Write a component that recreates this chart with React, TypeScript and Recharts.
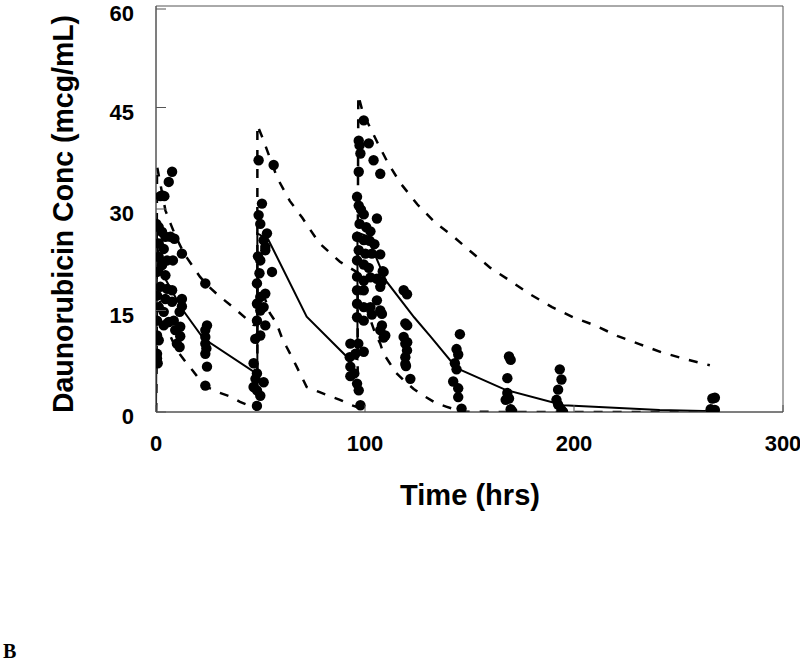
import React from "react";
import {
  ComposedChart,
  Line,
  Scatter,
  XAxis,
  YAxis,
  ZAxis,
  ReferenceArea,
} from "recharts";

// observed concentrations, [time (hrs), conc (mcg/mL)]
const obsDose1: [number, number][] = [
  [7.7, 35.5], [6.1, 34.0], [2.1, 31.9], [4.0, 31.9], [3.0, 32.0], [0.2, 27.8], [1.3, 27.3],
  [2.9, 26.6], [4.5, 25.9], [6.9, 25.9], [8.8, 25.6], [1.3, 24.9], [3.7, 24.1], [12.4, 23.4],
  [1.3, 22.9], [5.3, 22.4], [8.1, 22.4], [2.9, 21.7], [0.5, 20.7], [4.5, 20.2], [2.1, 18.5],
  [5.3, 18.2], [7.7, 18.0], [0.5, 17.2], [4.5, 16.7], [12.4, 16.7], [7.7, 16.3], [12.4, 15.6],
  [1.3, 15.5], [11.3, 14.8], [3.7, 14.8], [0.5, 13.5], [6.1, 13.3], [8.5, 13.5], [3.7, 12.8],
  [11.6, 12.6], [9.2, 12.1], [0.5, 11.3], [11.6, 11.2], [1.3, 10.6], [10.0, 10.1], [11.3, 9.6],
  [0.5, 8.6], [0.5, 7.9], [0.8, 7.2],
  [23.6, 19.0], [24.4, 12.8], [23.6, 12.1], [23.6, 11.1], [23.6, 10.1], [24.1, 9.4], [23.6, 8.6],
  [24.4, 6.7], [23.6, 3.9],
];

const obsDose2: [number, number][] = [
  [46.7, 7.2], [48.3, 5.7], [47.6, 4.9], [51.5, 4.4], [46.7, 3.7], [48.3, 3.2], [49.9, 2.4],
  [48.3, 0.9],
  [49.1, 37.2], [56.3, 36.5], [50.7, 30.8], [49.1, 29.1], [49.9, 27.8], [53.1, 26.4], [51.5, 25.4],
  [52.3, 24.4], [52.3, 23.9], [49.9, 22.4], [55.5, 20.7], [48.3, 19.0], [49.9, 17.0], [52.3, 17.5],
  [48.3, 16.0], [49.9, 15.0], [51.5, 15.5], [48.3, 13.5], [52.3, 12.8], [47.5, 10.8], [49.9, 11.3],
  [49.5, 20.5], [48.8, 23.0],
];

const obsDose3: [number, number][] = [
  [93.0, 10.1], [95.4, 8.6], [92.7, 8.1], [99.4, 8.9], [93.0, 6.7], [94.9, 5.7], [93.0, 5.3],
  [96.2, 4.2], [97.0, 3.2], [97.8, 1.0],
  [99.4, 43.1], [97.0, 40.1], [97.4, 39.4], [101.8, 39.7], [97.8, 38.2], [104.1, 37.2], [107.3, 35.2],
  [97.0, 35.5], [96.2, 31.8], [97.0, 30.5], [98.1, 29.9], [99.4, 29.2], [105.7, 28.6], [97.4, 27.8],
  [100.6, 27.3], [102.6, 26.7], [96.2, 25.9], [99.4, 25.4], [102.2, 25.3], [104.5, 24.8], [97.0, 23.9],
  [100.2, 23.4], [103.3, 23.4], [107.3, 23.3], [96.2, 22.4], [99.4, 21.8], [101.8, 21.3], [108.9, 20.7],
  [96.2, 20.0], [99.4, 19.4], [102.6, 19.9], [105.7, 19.7], [107.3, 18.5], [96.2, 18.0], [99.4, 18.0],
  [96.2, 16.0], [99.4, 15.5], [102.6, 15.5], [107.3, 15.0], [105.7, 16.5], [96.2, 14.0], [99.4, 13.5],
  [103.3, 14.4], [108.1, 12.8], [107.3, 12.1], [109.7, 11.3], [108.1, 19.3], [108.5, 20.8],
  [108.1, 14.5], [108.9, 11.0], [96.8, 10.1],
  [118.5, 18.0], [120.1, 17.4], [119.3, 13.1], [118.5, 11.1], [119.3, 10.1], [120.1, 9.1], [119.3, 8.1],
  [119.3, 7.1], [119.6, 6.8], [121.7, 4.9], [120.2, 10.3], [120.2, 12.8],
];

const obsLate: [number, number][] = [
  [145.4, 11.5], [143.8, 9.3], [144.6, 8.5], [143.0, 7.2], [143.8, 6.3], [142.2, 4.5], [144.6, 3.5],
  [144.6, 2.2], [146.2, 0.5],
  [168.9, 8.2], [169.7, 7.7], [168.1, 5.0], [168.1, 2.8], [168.9, 2.0], [167.3, 1.8], [170.5, 0.1],
  [169.7, 0.4],
  [193.2, 6.3], [194.0, 4.8], [192.4, 3.3], [191.6, 1.8], [192.4, 1.1], [194.0, 0.3], [194.8, 0.0],
  [266.2, 2.0], [267.4, 2.1], [265.4, 0.4], [266.6, 0.1], [267.4, 0.3],
];

// model predictions: median, 95th and 5th percentiles
const medianCurve: [number, number][] = [
  [0, 0], [0.5, 24.5], [3.5, 20.2], [12.3, 15.3], [22.6, 10.9], [46.5, 6.0], [48.5, 5.8],
  [48.5, 26.4], [53.7, 25.5], [72.1, 14.1], [91.2, 8.2], [96.4, 7.8], [96.4, 26.5], [101, 26],
  [110, 19.4], [123.5, 14], [131.5, 11.1], [143, 6.8], [146, 6.2], [167, 3.3], [195, 1.0],
  [241, 0.3], [267, 0.1],
];

const p95Curve: [number, number][] = [
  [0, 0], [0.5, 36.3], [4.5, 29.8], [7, 27.8], [9.5, 25.9], [12.5, 24], [15, 22.7], [21, 20],
  [25, 18.6], [30, 17.2], [38, 15.2], [46.5, 12.9], [48.5, 12.8], [48.5, 42.4], [51, 40.5],
  [58, 34.6], [64, 31.2], [70, 28.7], [78, 25], [88, 22.2], [96.5, 20.6], [96.8, 46.8], [99, 44.2],
  [106, 39.8], [111, 36.8], [117, 33.8], [125, 30.7], [133.5, 28], [142, 26], [151, 23.6],
  [160, 21.3], [169.4, 19.4], [179, 17.4], [189.5, 15.5], [199.5, 14], [210, 12.8], [221, 11.2],
  [231.6, 10], [242, 8.8], [253.6, 7.8], [265, 6.9],
];

const p5Curve: [number, number][] = [
  [0, 0], [0.5, 18], [5, 12.5], [10, 9.1], [14.7, 7.2], [17.9, 6.0], [21, 4.7], [25.8, 3.5],
  [29, 3.0], [35.4, 2.3], [40.2, 1.5], [45.8, 0.8], [48.5, 0.6], [48.5, 20], [54.5, 14.6],
  [57.7, 13.1], [60.1, 11.1], [62.5, 9.6], [64.9, 8.2], [67.3, 6.7], [69.7, 5.2], [72.1, 3.7],
  [77.7, 3.0], [81.7, 2.5], [88, 1.8], [93.6, 1.0], [96.5, 0.7], [96.5, 19], [104.9, 11.6],
  [107.3, 10.1], [108.9, 8.6], [112.1, 7.1], [114.5, 5.9], [118.5, 4.7], [123.3, 3.4], [126.5, 2.7],
  [134, 1.3], [138.8, 0.8], [146, 0.05], [170, 0], [265, 0],
];

const xTicks = [0, 100, 200, 300];
const yTicks = [0, 15, 30, 45, 60];

const toPoints = (rows: [number, number][]) => rows.map(([t, c]) => ({ t, c }));

const observed = toPoints([...obsDose1, ...obsDose2, ...obsDose3, ...obsLate]);

const FONT = "'Liberation Sans', Arial, Helvetica, sans-serif";
const AXIS = "#555";
const PLOT_LEFT = 156;
const PLOT_BOTTOM = 412;

function YTick(props: any) {
  const { y, payload } = props;
  return (
    <g>
      <line x1={PLOT_LEFT} x2={PLOT_LEFT + 10} y1={y} y2={y} stroke={AXIS} strokeWidth={1} />
      <text x={134} y={y + 12} textAnchor="end" fontFamily={FONT} fontWeight="bold" fontSize={22} fill="#000">
        {payload.value}
      </text>
    </g>
  );
}

function XTick(props: any) {
  const { x, payload } = props;
  return (
    <g>
      <line x1={x} x2={x} y1={PLOT_BOTTOM} y2={PLOT_BOTTOM - 7} stroke={AXIS} strokeWidth={1} />
      <text x={x} y={451} textAnchor="middle" fontFamily={FONT} fontWeight="bold" fontSize={22} fill="#000">
        {payload.value}
      </text>
    </g>
  );
}

export default function App() {
  return (
    <div style={{ position: "absolute", left: 0, top: 0, width: 800, height: 663, background: "#fff" }}>
      <ComposedChart width={800} height={663} margin={{ top: 6, right: 17, bottom: 0, left: 0 }}>
        <XAxis
          dataKey="t"
          type="number"
          domain={[0, 300]}
          ticks={xTicks}
          height={251}
          tick={<XTick />}
          tickLine={false}
          axisLine={{ stroke: AXIS }}
          allowDataOverflow
        />
        <YAxis
          dataKey="c"
          type="number"
          domain={[0, 60]}
          ticks={yTicks}
          width={156}
          tick={<YTick />}
          tickLine={false}
          axisLine={{ stroke: AXIS }}
          allowDataOverflow
        />
        <ZAxis range={[85, 85]} />
        <ReferenceArea x1={0} x2={300} y1={0} y2={60} fill="none" stroke={AXIS} strokeWidth={1} ifOverflow="visible" />
        <Scatter data={observed} dataKey="c" fill="#000" shape="circle" isAnimationActive={false} />
        <Line data={toPoints(medianCurve)} dataKey="c" type="linear" stroke="#000" strokeWidth={2} dot={false} activeDot={false} isAnimationActive={false} />
        <Line data={toPoints(p95Curve)} dataKey="c" type="linear" stroke="#000" strokeWidth={2.5} strokeDasharray="9 10" dot={false} activeDot={false} isAnimationActive={false} />
        <Line data={toPoints(p5Curve)} dataKey="c" type="linear" stroke="#000" strokeWidth={2.5} strokeDasharray="9 10" dot={false} activeDot={false} isAnimationActive={false} />
      </ComposedChart>
      <svg width={800} height={663} style={{ position: "absolute", left: 0, top: 0, pointerEvents: "none" }}>
        <text
          x={73}
          y={214}
          transform="rotate(-90 73 214)"
          textAnchor="middle"
          fontFamily={FONT}
          fontWeight="bold"
          fontSize={29}
          textLength={398}
          lengthAdjust="spacingAndGlyphs"
        >
          Daunorubicin Conc (mcg/mL)
        </text>
        <text x={470} y={505} textAnchor="middle" fontFamily={FONT} fontWeight="bold" fontSize={29} textLength={140} lengthAdjust="spacingAndGlyphs">
          Time (hrs)
        </text>
        <text x={3} y={658} fontFamily="'Liberation Serif', 'Times New Roman', serif" fontWeight="bold" fontSize={20}>
          B
        </text>
      </svg>
    </div>
  );
}
